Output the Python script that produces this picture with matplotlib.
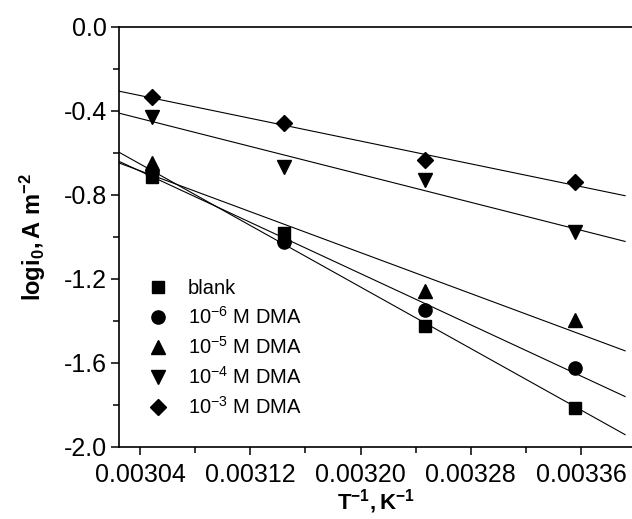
import numpy as np
import matplotlib
matplotlib.use("Agg")
import matplotlib.pyplot as plt
from matplotlib.ticker import MultipleLocator

plt.rcParams['font.family'] = ['Liberation Sans', 'DejaVu Sans']
plt.rcParams['mathtext.fontset'] = 'custom'
plt.rcParams['mathtext.rm'] = 'Liberation Sans'
plt.rcParams['mathtext.it'] = 'Liberation Sans:italic'
plt.rcParams['mathtext.bf'] = 'Liberation Sans:bold'

# Data
inv_T = [1/328, 1/318, 1/308, 1/298]
labels = ['blank', r'10$^{-6}$ M DMA', r'10$^{-5}$ M DMA', r'10$^{-4}$ M DMA', r'10$^{-3}$ M DMA']
blank = [-0.717, -0.983, -1.427, -1.816]
dma_1e6 = [-0.690, -1.027, -1.348, -1.625]
dma_1e5 = [-0.649, -0.990, -1.259, -1.395]
dma_1e4 = [-0.431, -0.667, -0.731, -0.977]
dma_1e3 = [-0.337, -0.459, -0.636, -0.741]
series = [blank, dma_1e6, dma_1e5, dma_1e4, dma_1e3]
markers = ['s', 'o', '^', 'v', 'D']
msizes = [8.5, 9.5, 10.5, 10.5, 8.5]

xmin, xmax = 0.003025, 0.003397
line_end = 0.003392

fig = plt.figure(figsize=(6.32, 5.19), dpi=100)
ax = fig.add_axes([0.1888, 0.1393, 0.8112, 0.8093])

x = np.array(inv_T)
for ys, m, ms, lab in zip(series, markers, msizes, labels):
    y = np.array(ys)
    k, b = np.polyfit(x, y, 1)
    xl = np.array([xmin, line_end])
    ax.plot(xl, k * xl + b, color='black', lw=0.8, zorder=2)
    ax.plot(x, y, linestyle='none', marker=m, ms=ms, color='black', label=lab, zorder=3)

ax.set_xlim(xmin, xmax)
ax.set_ylim(-2.0, 0.0)
ax.xaxis.set_major_locator(MultipleLocator(0.00008))
ax.xaxis.set_minor_locator(MultipleLocator(0.00004))
ax.yaxis.set_major_locator(MultipleLocator(0.4))
ax.yaxis.set_minor_locator(MultipleLocator(0.2))
ax.xaxis.set_major_formatter(matplotlib.ticker.FuncFormatter(lambda v, p: f"{v:.5f}"))
ax.yaxis.set_major_formatter(matplotlib.ticker.FuncFormatter(lambda v, p: f"{v:.1f}"))

ax.spines['right'].set_visible(False)
for s in ['left', 'bottom', 'top']:
    ax.spines[s].set_linewidth(1.2)
ax.tick_params(which='major', direction='out', length=6, width=1.1, labelsize=18, top=False, right=False)
ax.tick_params(which='minor', direction='out', length=4, width=1.1, top=False, right=False)
ax.tick_params(axis='x', pad=6)
ax.tick_params(axis='y', pad=3)

ax.set_xlabel(r'$\mathbf{T^{-1}, K^{-1}}$', fontsize=16, labelpad=0)
ax.set_ylabel(r'$\mathbf{logi_0, A\ m^{-2}}$', fontsize=17, labelpad=11)

leg = ax.legend(loc='lower left', bbox_to_anchor=(0.016, 0.035), frameon=False, fontsize=14.5,
                handletextpad=0.7, labelspacing=0.4, borderaxespad=0.3, handlelength=1.6)

fig.savefig('out.png', dpi=100)
